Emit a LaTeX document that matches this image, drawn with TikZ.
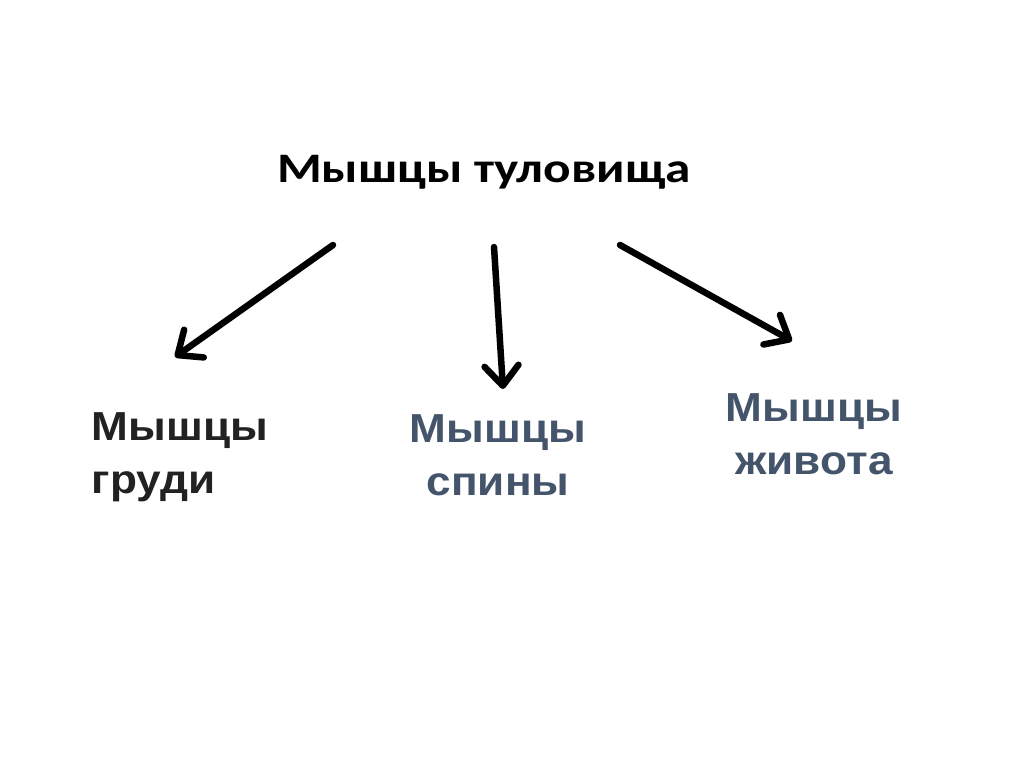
\documentclass[tikz,border=0pt]{standalone}
\usepackage{fontspec}
\newfontfamily\titlefont[FakeStretch=1.22]{Carlito}
\newfontfamily\labelfont[FakeStretch=1.09]{Liberation Sans}
\usetikzlibrary{arrows.meta}
\definecolor{slate}{HTML}{44546A}
\definecolor{darktext}{HTML}{222222}
\tikzset{
  arrowline/.style={line width=6.5pt, line cap=round, line join=round,
    -{Straight Barb[length=20pt, width=34pt, line cap=round, line join=round]}},
  partlabel/.style={inner sep=0pt, font=\labelfont\bfseries\fontsize{40.5}{53}\selectfont}
}

\begin{document}
\begin{tikzpicture}[x=1pt, y=-1pt]
  \useasboundingbox (0,0) rectangle (1024,767);
  % Title
  \node[inner sep=0pt, font=\titlefont\bfseries\fontsize{42}{48}\selectfont] (trunk) at (484,172) {Мышцы туловища};
  % Muscle groups
  \node[partlabel, darktext, align=left] (chest) at (180,457) {Мышцы\\груди};
  \node[partlabel, slate, align=center] (back) at (498,455) {Мышцы\\спины};
  \node[partlabel, slate, align=center] (belly) at (814,434) {Мышцы\\живота};
  % Arrow ends
  \coordinate (s1) at (333,245);
  \coordinate (e1) at (175,357);
  \coordinate (s2) at (494,247);
  \coordinate (e2) at (503,389);
  \coordinate (s3) at (620,245);
  \coordinate (e3) at (792,341);
  % Arrows
  \draw[arrowline] (s1) -- (e1);
  \draw[arrowline] (s2) -- (e2);
  \draw[arrowline] (s3) -- (e3);
\end{tikzpicture}
\end{document}
